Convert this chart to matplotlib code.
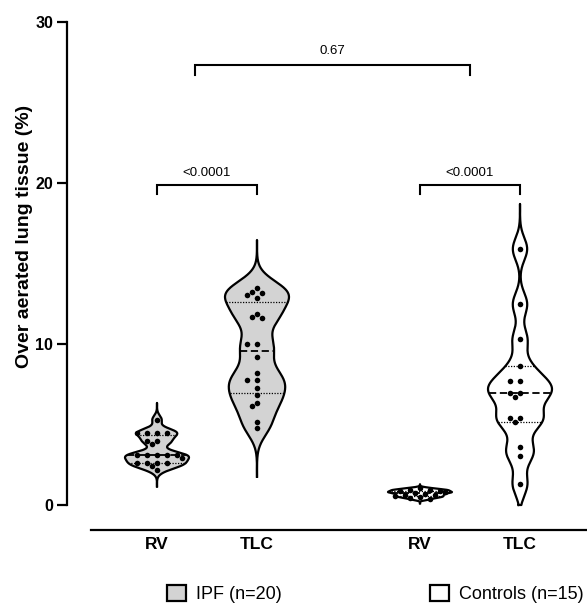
import numpy as np
import matplotlib
matplotlib.use("Agg")
import matplotlib.pyplot as plt
from matplotlib import font_manager
from matplotlib.patches import Patch

# values (% over aerated lung tissue)
ipf_rv = [5.3, 4.5, 4.5, 4.5, 4.5, 4.0, 4.0, 3.8, 3.1, 3.1, 3.1, 3.1, 3.1,
          2.95, 2.6, 2.6, 2.6, 2.6, 2.4, 2.2]
ipf_tlc = [13.46, 13.04, 13.25, 12.84, 13.19, 11.70, 11.86, 11.63, 10.0, 10.0,
           9.17, 8.18, 7.76, 7.76, 7.25, 6.83, 6.15, 6.36, 5.18, 4.76]
ctrl_rv = [1.05, 0.95, 0.95, 0.9, 0.85, 0.8, 0.8, 0.75, 0.7, 0.65, 0.6, 0.55,
           0.5, 0.45, 0.35]
ctrl_tlc = [15.9, 12.47, 10.29, 8.63, 7.70, 7.70, 6.98, 6.98, 6.73, 5.42, 5.42,
            5.13, 3.58, 3.06, 1.28]

tick_labels = ['RV', 'TLC', 'RV', 'TLC']
groups = ['IPF (n=20)', 'Controls (n=15)']
p_values = ['<0.0001', '<0.0001', '0.67']

series = [ipf_rv, ipf_tlc, ctrl_rv, ctrl_tlc]
positions = [0, 1, 2.63, 3.63]
bandwidths = [0.26, 0.75, 0.06, 0.7]
fills = ['#d3d3d3', '#d3d3d3', 'white', 'white']
half_w = 0.32

px_x = 100.0   # pixels per x unit
px_y = 16.1    # pixels per y unit


# pick an Arial-like family that actually ships a bold face
def has_bold(name):
    for f in font_manager.fontManager.ttflist:
        w = f.weight if isinstance(f.weight, int) else font_manager.weight_dict.get(f.weight, 400)
        if f.name == name and w >= 600:
            return True
    return False

regular = 'Liberation Sans'
bold = next((n for n in ['Liberation Sans', 'Arimo', 'Roboto', 'Noto Sans', 'DejaVu Sans']
             if has_bold(n)), 'DejaVu Sans')
plt.rcParams['font.family'] = [regular, 'DejaVu Sans']
bfont = {'family': [bold, 'DejaVu Sans'], 'weight': 'bold'}


def kde(vals, bw):
    v = np.asarray(vals)
    lo = max(v.min() - 4 * bw, 0)
    hi = v.max() + 4 * bw
    ys = np.linspace(lo, hi, 500)
    d = np.exp(-0.5 * ((ys[:, None] - v[None, :]) / bw) ** 2).sum(1)
    return ys, d / d.max()


def swarm(vals, dot=5.6):
    v = np.asarray(vals, dtype=float)
    offs = np.zeros(len(v))
    placed = []
    for i in np.argsort(-v):
        y = v[i] * px_y
        for k in [0, -1, 1, -2, 2, -3, 3, -4, 4, -5, 5]:
            x = k * 5.0
            if all((x - px) ** 2 + (y - py) ** 2 >= dot ** 2 for px, py in placed):
                break
        placed.append((x, y))
        offs[i] = x / px_x
    return offs


fig = plt.figure(figsize=(5.87, 6.05), dpi=100)
ax = fig.add_axes([67 / 587, 100 / 605, 520 / 587, 483 / 605])

# spines first: set_position resets the tick labels
ax.spines['top'].set_visible(False)
ax.spines['right'].set_visible(False)
ax.spines['left'].set_linewidth(1.6)
ax.spines['bottom'].set_linewidth(1.6)
ax.spines['bottom'].set_position(('outward', 18))
ax.spines['bottom'].set_bounds(-0.66, 4.3)

for vals, pos, bw, fc in zip(series, positions, bandwidths, fills):
    ys, d = kde(vals, bw)
    w = d * half_w
    ax.fill_betweenx(ys, pos - w, pos + w, facecolor=fc, edgecolor='none', zorder=1, clip_on=False)
    ax.plot(np.r_[pos - w, (pos + w)[::-1], pos - w[0]], np.r_[ys, ys[::-1], ys[0]],
            color='black', lw=1.6, zorder=3, clip_on=False, solid_joinstyle='round')
    q1, med, q3 = np.percentile(vals, [25, 50, 75], method='weibull')
    for q, ls, lw in [(q1, (0, (1, 1.2)), 0.9), (q3, (0, (1, 1.2)), 0.9), (med, (0, (4, 2)), 1.3)]:
        hw = np.interp(q, ys, w)
        ax.plot([pos - hw, pos + hw], [q, q], color='black', lw=lw, ls=ls, zorder=2)
    ax.scatter(pos + swarm(vals), vals, s=16, color='black', zorder=4, linewidths=0, clip_on=False)


# significance brackets
def bracket(x0, x1, y, leg, gap, text):
    ax.plot([x0, x0, x1, x1], [y - leg, y, y, y - leg], color='black', lw=1.5,
            clip_on=False, solid_joinstyle='miter')
    ax.text((x0 + x1) / 2, y + gap, text, ha='center', va='bottom', fontsize=9.5)

bracket(positions[0], positions[1], 19.9, 0.6, 0.35, p_values[0])
bracket(positions[2], positions[3], 19.9, 0.6, 0.35, p_values[1])
bracket(0.38, 3.13, 27.3, 0.6, 0.55, p_values[2])

ax.set_xlim(-0.9, 4.3)
ax.set_ylim(0, 30)
ax.set_yticks([0, 10, 20, 30])
ax.set_xticks(positions)
ax.tick_params(axis='y', length=7, width=1.6, pad=3)
ax.tick_params(axis='x', length=0, pad=5)
ax.set_xticklabels(tick_labels, fontsize=12.5, **bfont)
ax.set_yticklabels(['0', '10', '20', '30'], fontsize=11.5, **bfont)

ax.set_ylabel('Over aerated lung tissue (%)', fontsize=14, **bfont)
ax.yaxis.set_label_coords(-0.065, 0.557)

handles = [Patch(facecolor='#d3d3d3', edgecolor='black', lw=1.6),
           Patch(facecolor='white', edgecolor='black', lw=1.6)]
fig.legend(handles, groups, loc='center left', bbox_to_anchor=(167 / 587, 1 - 594 / 605),
           ncol=2, frameon=False, handlelength=1.05, handleheight=1.05, fontsize=13,
           columnspacing=8.2, handletextpad=0.55, borderaxespad=0, borderpad=0)

fig.savefig('out.png', dpi=100)
